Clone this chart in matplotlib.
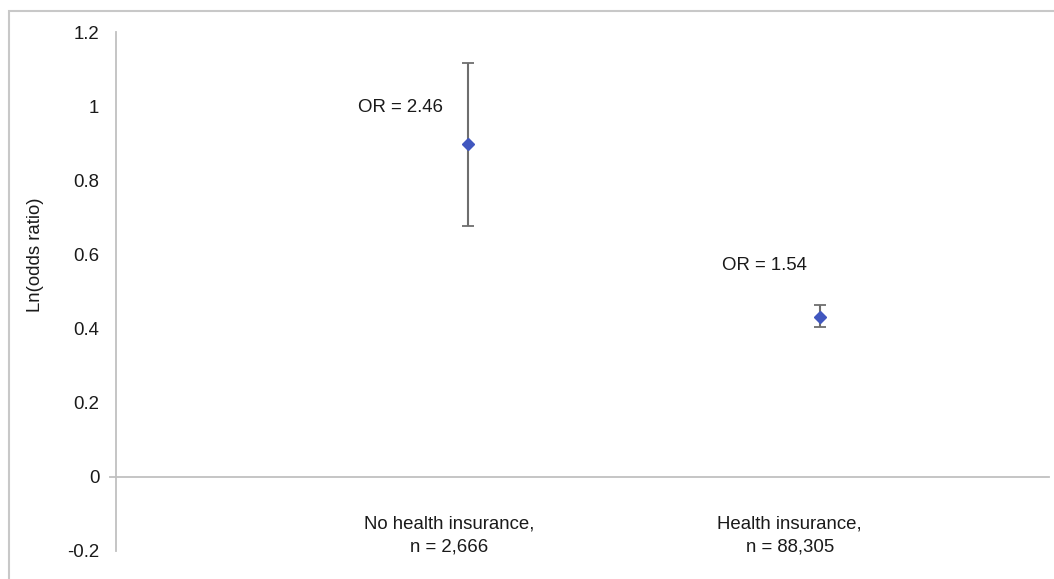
import matplotlib
matplotlib.use("Agg")
import matplotlib.pyplot as plt
from matplotlib.patches import Rectangle

plt.rcParams['font.family'] = ['Liberation Sans', 'DejaVu Sans']

# data
groups = ["No health insurance,\nn = 2,666", "Health insurance,\nn = 88,305"]
x_pos = [1, 2]
ln_or = [0.897, 0.432]
ci_low = [0.677, 0.403]
ci_high = [1.117, 0.464]
or_text = ["OR = 2.46", "OR = 1.54"]

fs = 13.4
txt_col = '#1a1a1a'

fig = plt.figure(figsize=(10.54, 5.79), dpi=100)
ax = fig.add_axes([0.110, 0.0484, 0.885, 0.8963])

yerr = [[v - lo for v, lo in zip(ln_or, ci_low)],
        [hi - v for v, hi in zip(ln_or, ci_high)]]
ax.errorbar(x_pos, ln_or, yerr=yerr, fmt='D', color='#4157BF', markersize=6.5,
            ecolor='#6e6e6e', elinewidth=1.5, capsize=4, capthick=1.3, zorder=3)

ax.set_xlim(0, 2.65)
ax.set_ylim(-0.2, 1.2)
ax.set_yticks([-0.2, 0, 0.2, 0.4, 0.6, 0.8, 1.0, 1.2])
ax.set_yticklabels(["-0.2", "0", "0.2", "0.4", "0.6", "0.8", "1", "1.2"])
ax.set_xticks([])
ax.tick_params(axis='y', length=0, pad=12, labelsize=fs, labelcolor=txt_col)

for s in ['top', 'right', 'bottom']:
    ax.spines[s].set_visible(False)
ax.spines['left'].set_color('#c0c0c0')
ax.spines['left'].set_linewidth(1.3)

ax.axhline(0, xmin=-0.006, xmax=1, color='#c0c0c0', linewidth=1.3, clip_on=False, zorder=1)

ax.set_ylabel("Ln(odds ratio)", fontsize=fs, color=txt_col)
ax.yaxis.set_label_coords(-0.077, 0.57)

# OR annotations
ax.text(0.807, 0.996, or_text[0], fontsize=fs, ha='center', va='center', color=txt_col)
ax.text(1.843, 0.570, or_text[1], fontsize=fs, ha='center', va='center', color=txt_col)

# group labels below axis
ax.text(0.946, -0.158, groups[0], fontsize=fs, ha='center', va='center', color=txt_col, linespacing=1.5)
ax.text(1.914, -0.158, groups[1], fontsize=fs, ha='center', va='center', color=txt_col, linespacing=1.5)

# outer frame
fig.add_artist(Rectangle((9 / 1054, -0.1), 1.2, 1.1 - 11 / 579, transform=fig.transFigure,
                         fill=False, edgecolor='#c8c8c8', linewidth=1.5))

fig.savefig("out.png", dpi=100)
